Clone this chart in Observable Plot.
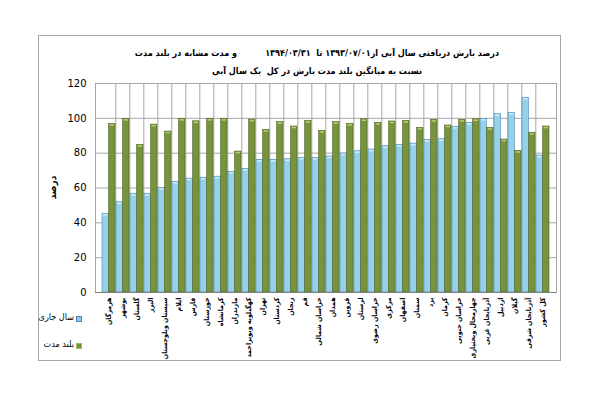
<!DOCTYPE html>
<html><head><meta charset="utf-8">
<script src="https://cdn.jsdelivr.net/npm/d3@7"></script>
<script src="https://cdn.jsdelivr.net/npm/@observablehq/plot@0.6"></script>
<style>
body{margin:0;background:#fff;}
#wrap{position:relative;width:600px;height:400px;font-family:"DejaVu Sans",sans-serif;overflow:hidden;}
#frame{position:absolute;left:38px;top:35px;width:523px;height:326px;border:1px solid #a6a6a6;box-sizing:border-box;}
#chart{position:absolute;left:0;top:0;}
.t{position:absolute;direction:rtl;font-weight:bold;font-size:9px;white-space:pre;color:#000;text-align:center;font-family:"DejaVu Sans Condensed","DejaVu Sans",sans-serif;}
.lg{position:absolute;font-size:9px;color:#000;direction:rtl;white-space:pre;font-family:"DejaVu Sans Condensed","DejaVu Sans",sans-serif;}
.sw{position:absolute;width:4px;height:4px;}
</style></head><body>
<div id="wrap">
  <div id="frame"></div>
  <div id="chart"></div>
  <div class="t" style="left:0px;width:634px;top:48px;">درصد بارش دریافتی سال آبی از۱۳۹۳/۰۷/۰۱ تا  ۱۳۹۴/۰۳/۳۱          و مدت مشابه در بلند مدت</div>
  <div class="t" style="left:0px;width:634px;top:66px;">نسبت به میانگین بلند مدت بارش در کل  یک سال آبی</div>
  <div class="t" style="left:32px;top:182px;width:40px;font-size:10px;transform:rotate(-90deg);">درصد</div>
  <div class="lg" id="lg1" style="right:526px;top:312px;"></div>
  <div class="sw" id="sw1" style="left:76px;top:316px;background:#93CDDD;border:1px solid #4F81BD;"></div>
  <div class="lg" id="lg2" style="right:526px;top:339px;"></div>
  <div class="sw" id="sw2" style="left:76px;top:343px;background:#77933C;border:1px solid #9BBB59;"></div>
</div>
<script>
const provinces = ["هرمزگان","بوشهر","گلستان","البرز","سیستان وبلوچستان","ایلام","فارس","خوزستان","کرمانشاه","مازندران","کهگیلویه وبویراحمد","تهران","کردستان","زنجان","قم","خراسان شمالی","همدان","قزوین","لرستان","خراسان رضوی","مرکزی","اصفهان","سمنان","یزد","کرمان","خراسان جنوبی","چهارمحال وبختیاری","آذربایجان غربی","اردبیل","گیلان","آذربایجان شرقی","کل کشور"];
const currentYear = [45.2,51.8,56.7,56.7,60.0,63.6,65.4,65.9,66.5,69.2,71.0,76.2,76.2,76.5,77.3,77.3,78.1,79.8,81.1,82.1,84.0,84.8,85.5,87.6,88.0,95.1,97.4,99.7,102.4,103.1,111.8,78.6];
const longTerm = [96.8,99.7,84.7,96.4,92.4,99.7,98.3,99.7,99.7,80.9,99.3,93.4,97.8,95.3,98.5,92.8,97.8,96.8,99.5,97.4,98.2,98.5,94.5,99.1,95.9,99.1,99.5,94.5,87.8,81.3,91.7,95.3];
const yTicks = [0,20,40,60,80,100,120];
const seriesNames = ["سال جاری","بلند مدت"];

document.getElementById("lg1").textContent = seriesNames[0];
document.getElementById("lg2").textContent = seriesNames[1];

const rows = provinces.map((p,i)=>({province:p, current:currentYear[i], long:longTerm[i]}));
const W=600,H=400,mL=95,mR=44,mT=83,mB=108;
const pad = 0.08;
const n = provinces.length;
const step = (W-mL-mR)/(n + pad);
const bw = step*(1-pad);
const grid = "#a6a6a6";

const chart = Plot.plot({
  width:W, height:H,
  marginLeft:mL, marginRight:mR, marginTop:mT, marginBottom:mB,
  style:{fontFamily:"DejaVu Sans, sans-serif", background:"transparent", color:"#000"},
  x:{type:"band", domain:provinces, padding:pad, label:null},
  y:{domain:[0,120], label:null},
  marks:[
    Plot.ruleY(yTicks, {stroke:grid, strokeWidth:1}),
    Plot.ruleX(provinces.slice(1), {x:d=>d, dx:-step/2, y1:0, y2:120, stroke:grid, strokeWidth:1}),
    Plot.frame({stroke:grid}),
    Plot.barY(rows, {x:"province", y:"current", fill:"#96D2E6", stroke:"#4F81BD", strokeWidth:0.6, insetRight:bw/2}),
    Plot.barY(rows, {x:"province", y:"long", fill:"#77933C", stroke:"#4F6228", strokeWidth:0.6, insetLeft:bw/2}),
    Plot.tickY(rows, {x:"province", y:"current", stroke:"#d2eef8", strokeWidth:1.5, dy:1, insetLeft:1, insetRight:bw/2+1}),
    Plot.tickY(rows, {x:"province", y:"long", stroke:"#b5cf6b", strokeWidth:1.5, dy:1, insetLeft:bw/2+1, insetRight:1}),
    Plot.axisY({ticks:yTicks, tickSize:0, tickPadding:9, fontSize:10, label:null}),
    Plot.axisX({tickRotate:-90, tickSize:0, tickPadding:5, fontSize:7, fontWeight:"bold", label:null, fontFamily:"DejaVu Sans Condensed, DejaVu Sans, sans-serif"}),
    Plot.ruleY([0], {stroke:"#808080"})
  ]
});
document.getElementById("chart").appendChild(chart);
</script>
</body></html>
